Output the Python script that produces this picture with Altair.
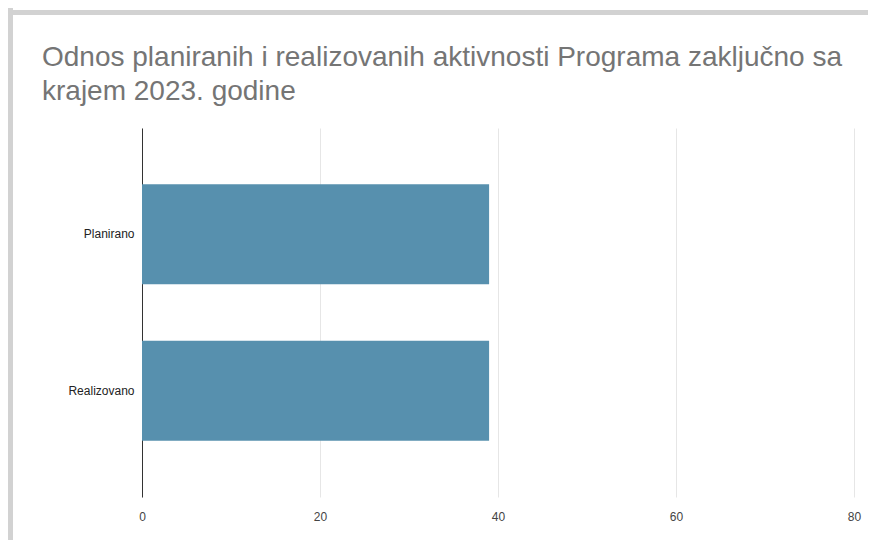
import altair as alt
import pandas as pd

categories = ["Planirano", "Realizovano"]
values = [39, 39]
x_ticks = [0, 20, 40, 60, 80]
title_lines = ["Odnos planiranih i realizovanih aktivnosti Programa zaključno sa",
               "krajem 2023. godine"]

df = pd.DataFrame({"kategorija": categories, "vrednost": values})
frame_df = pd.DataFrame({"k": [0]})

FONT = "Liberation Sans"

bars = alt.Chart(df).mark_bar(color="#5790AE").encode(
    x=alt.X("vrednost:Q",
            scale=alt.Scale(domain=[0, 80], nice=False),
            axis=alt.Axis(values=x_ticks, title=None, domain=False, ticks=False,
                          gridColor="#e6e6e6", gridWidth=1, labelPadding=14,
                          labelFlush=False,
                          labelFontSize=12, labelColor="#444", labelFont=FONT)),
    y=alt.Y("kategorija:N", sort=categories,
            scale=alt.Scale(paddingInner=0.36, paddingOuter=0.36),
            axis=alt.Axis(title=None, ticks=False, grid=False, domainColor="#333",
                          domainWidth=1, labelPadding=8, labelFontSize=12,
                          labelColor="#222", labelFont=FONT)),
)

left_frame = alt.Chart(frame_df).mark_rule(color="#d2d2d2", strokeWidth=5).encode(
    x=alt.value(-131.5), y=alt.value(-120), y2=alt.value(500))
top_frame = alt.Chart(frame_df).mark_rule(color="#d2d2d2", strokeWidth=5).encode(
    x=alt.value(-134), x2=alt.value(800), y=alt.value(-115.5))

chart = alt.layer(bars, left_frame, top_frame).properties(
    width=712, height=369,
    autosize=alt.AutoSizeParams(type="none"),
    padding={"left": 134, "top": 120, "right": 14, "bottom": 43},
    title=alt.Title(title_lines, anchor="start", frame="group", dx=-100, dy=100,
                    fontSize=28, font=FONT, fontWeight="normal",
                    color="#757575", lineHeight=34, offset=0),
).configure_view(stroke=None)

chart.save("out.html", embed_options={"renderer": "svg", "actions": False})
